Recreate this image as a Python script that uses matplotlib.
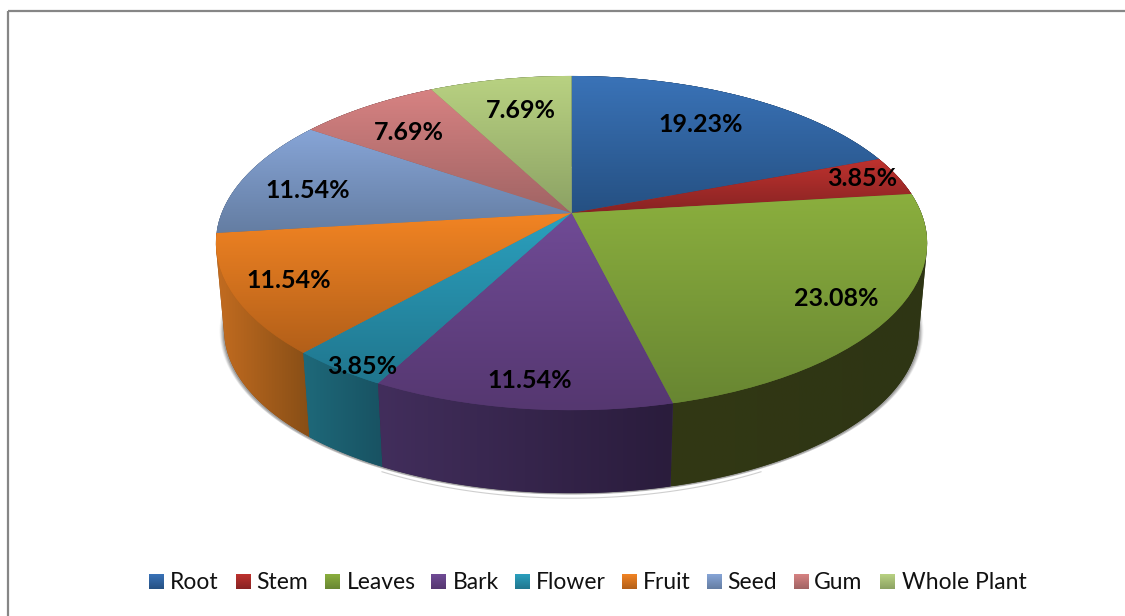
import numpy as np
import matplotlib
matplotlib.use("Agg")
import matplotlib.pyplot as plt
from matplotlib.transforms import Transform
from matplotlib.patches import Polygon, Rectangle

categories = ["Root", "Stem", "Leaves", "Bark", "Flower", "Fruit", "Seed", "Gum", "Whole Plant"]
percent = [19.23, 3.85, 23.08, 11.54, 3.85, 11.54, 11.54, 7.69, 7.69]
top_light = [(58, 115, 184), (190, 50, 46), (139, 175, 62), (112, 75, 150), (43, 160, 190),
             (242, 132, 35), (135, 165, 215), (215, 130, 130), (185, 210, 130)]
top_dark = [(37, 80, 130), (135, 35, 35), (104, 134, 50), (85, 55, 112), (32, 118, 142),
            (178, 95, 25), (100, 125, 162), (160, 100, 100), (140, 162, 100)]
wall_left = [(30, 60, 95), (90, 25, 25), (50, 56, 20), (66, 46, 92), (30, 105, 122),
             (195, 108, 32), (70, 90, 120), (110, 70, 70), (100, 115, 70)]
wall_right = [(25, 50, 80), (70, 20, 20), (46, 53, 20), (42, 28, 60), (24, 82, 98),
              (135, 78, 22), (60, 75, 100), (90, 60, 60), (85, 100, 60)]

# geometry of the tilted disc, in image pixels
CX, CY, RX, RY, C = 571.5, 213.0, 349.8, 161.7, 0.18
VY, S = 4018.0, 0.977


class Tilt(Transform):
    input_dims = 2
    output_dims = 2
    has_inverse = False

    def transform_non_affine(self, values):
        values = np.asarray(values, float)
        w = 1 + C * values[:, 1]
        return np.column_stack([CX + RX * values[:, 0] / w, CY - RY * values[:, 1] / w])


def to_bottom(p):
    return np.column_stack([CX + S * (p[:, 0] - CX), VY + S * (p[:, 1] - VY)])


def rim(a, b, n=120):
    t = np.radians(np.linspace(a, b, n))
    return Tilt().transform_non_affine(np.column_stack([np.sin(t), np.cos(t)]))


def hull(points):
    pts = sorted(set(map(tuple, points)))

    def half(seq):
        out = []
        for p in seq:
            while len(out) > 1 and ((out[-1][0] - out[-2][0]) * (p[1] - out[-2][1])
                                    - (out[-1][1] - out[-2][1]) * (p[0] - out[-2][0])) <= 0:
                out.pop()
            out.append(p)
        return out[:-1]

    return np.array(half(pts) + half(pts[::-1]))


def gradient(c0, c1, vertical=True, n=256):
    s = np.linspace(0, 1, n)[:, None]
    g = (1 - s) * np.array(c0)[None, :] + s * np.array(c1)[None, :]
    g = g / 255.0
    return g[:, None, :] if vertical else g[None, :, :]


fig = plt.figure(figsize=(11.25, 6.16), dpi=100)
ax = fig.add_axes([0, 0, 1, 1])
W, H = 1125, 616
plt.rcParams["font.family"] = ["Lato", "DejaVu Sans"]

tilt = Tilt() + ax.transData
wedges, _ = ax.pie(percent, startangle=90, counterclock=False, radius=1, labeldistance=None,
                   colors=[np.array(c) / 255 for c in top_dark],
                   wedgeprops=dict(transform=tilt, linewidth=0, zorder=5))
ax.set_aspect("auto")

# frame
ax.add_patch(Rectangle((8, 11), 1200, 700, fill=False, ec="#868686", lw=1.6, zorder=1))

# shadow
outline = to_bottom(rim(0, 360, 720))
for sx, dy, a in [(1.013, 1.0, 0.07), (1.010, 1.5, 0.14), (1.007, 1.5, 0.20), (1.004, 1.0, 0.30)]:
    pts = np.column_stack([CX + sx * (outline[:, 0] - CX), outline[:, 1] + dy])
    ax.add_patch(Polygon(pts, closed=True, fc="#555555", ec="none", alpha=a, zorder=2))
mask = (outline[:, 1] > 440) & (outline[:, 0] > 380) & (outline[:, 0] < 762)
low = outline[mask]
order = np.argsort(low[:, 0])
ax.plot(low[order, 0], low[order, 1] + 5, color="#cfcfcf", lw=0.8, zorder=2)

# walls (back to front) and top faces
fractions = np.array(percent) / np.sum(percent)
edges = np.concatenate([[0], np.cumsum(fractions)]) * 360
tops = [rim(edges[i], edges[i + 1]) for i in range(len(percent))]
for rank, i in enumerate(np.argsort([t[:, 1].mean() for t in tops])):
    top = tops[i]
    bottom = to_bottom(top)
    shape = hull(np.vstack([top, bottom]))
    poly = Polygon(shape, closed=True, fc=np.array(wall_right[i]) / 255, ec="none", zorder=3 + rank * 0.01)
    ax.add_patch(poly)
    x0, x1 = shape[:, 0].min(), shape[:, 0].max()
    y0, y1 = shape[:, 1].min(), shape[:, 1].max()
    im = ax.imshow(gradient(wall_left[i], wall_right[i], vertical=False), extent=(x0, x1, y1, y0),
                   aspect="auto", zorder=3.001 + rank * 0.01, interpolation="bilinear")
    im.set_clip_path(poly)

for i, top in enumerate(tops):
    y0, y1 = min(top[:, 1].min(), CY), max(top[:, 1].max(), CY)
    x0, x1 = min(top[:, 0].min(), CX), max(top[:, 0].max(), CX)
    im = ax.imshow(gradient(top_light[i], top_dark[i]), extent=(x0, x1, y1, y0),
                   aspect="auto", zorder=6, interpolation="bilinear")
    im.set_clip_path(wedges[i])

# data labels
label_x = [701, 862, 836, 530, 362, 289, 308, 409, 521]
label_y = [125, 179, 299, 381, 367, 280, 190, 132, 111]
for p, x, y in zip(percent, label_x, label_y):
    ax.text(x, y, f"{p:.2f}%", ha="center", va="center", fontsize=18, fontweight="bold",
            color="black", zorder=8)

# legend
swatch_x = [149, 236, 325, 431, 515, 622, 707, 794, 880]
text_x = [170, 256, 347, 453, 536, 643, 727, 814, 902]
for i, name in enumerate(categories):
    ax.imshow(gradient(top_light[i], top_dark[i]), extent=(swatch_x[i], swatch_x[i] + 15, 589, 574),
              aspect="auto", zorder=6)
    ax.text(text_x[i], 589, name, ha="left", va="baseline", fontsize=16.5, color="#111111", zorder=8)

ax.set_xlim(0, W)
ax.set_ylim(H, 0)
ax.set_axis_off()
fig.savefig("out.png", dpi=100, facecolor="white")
